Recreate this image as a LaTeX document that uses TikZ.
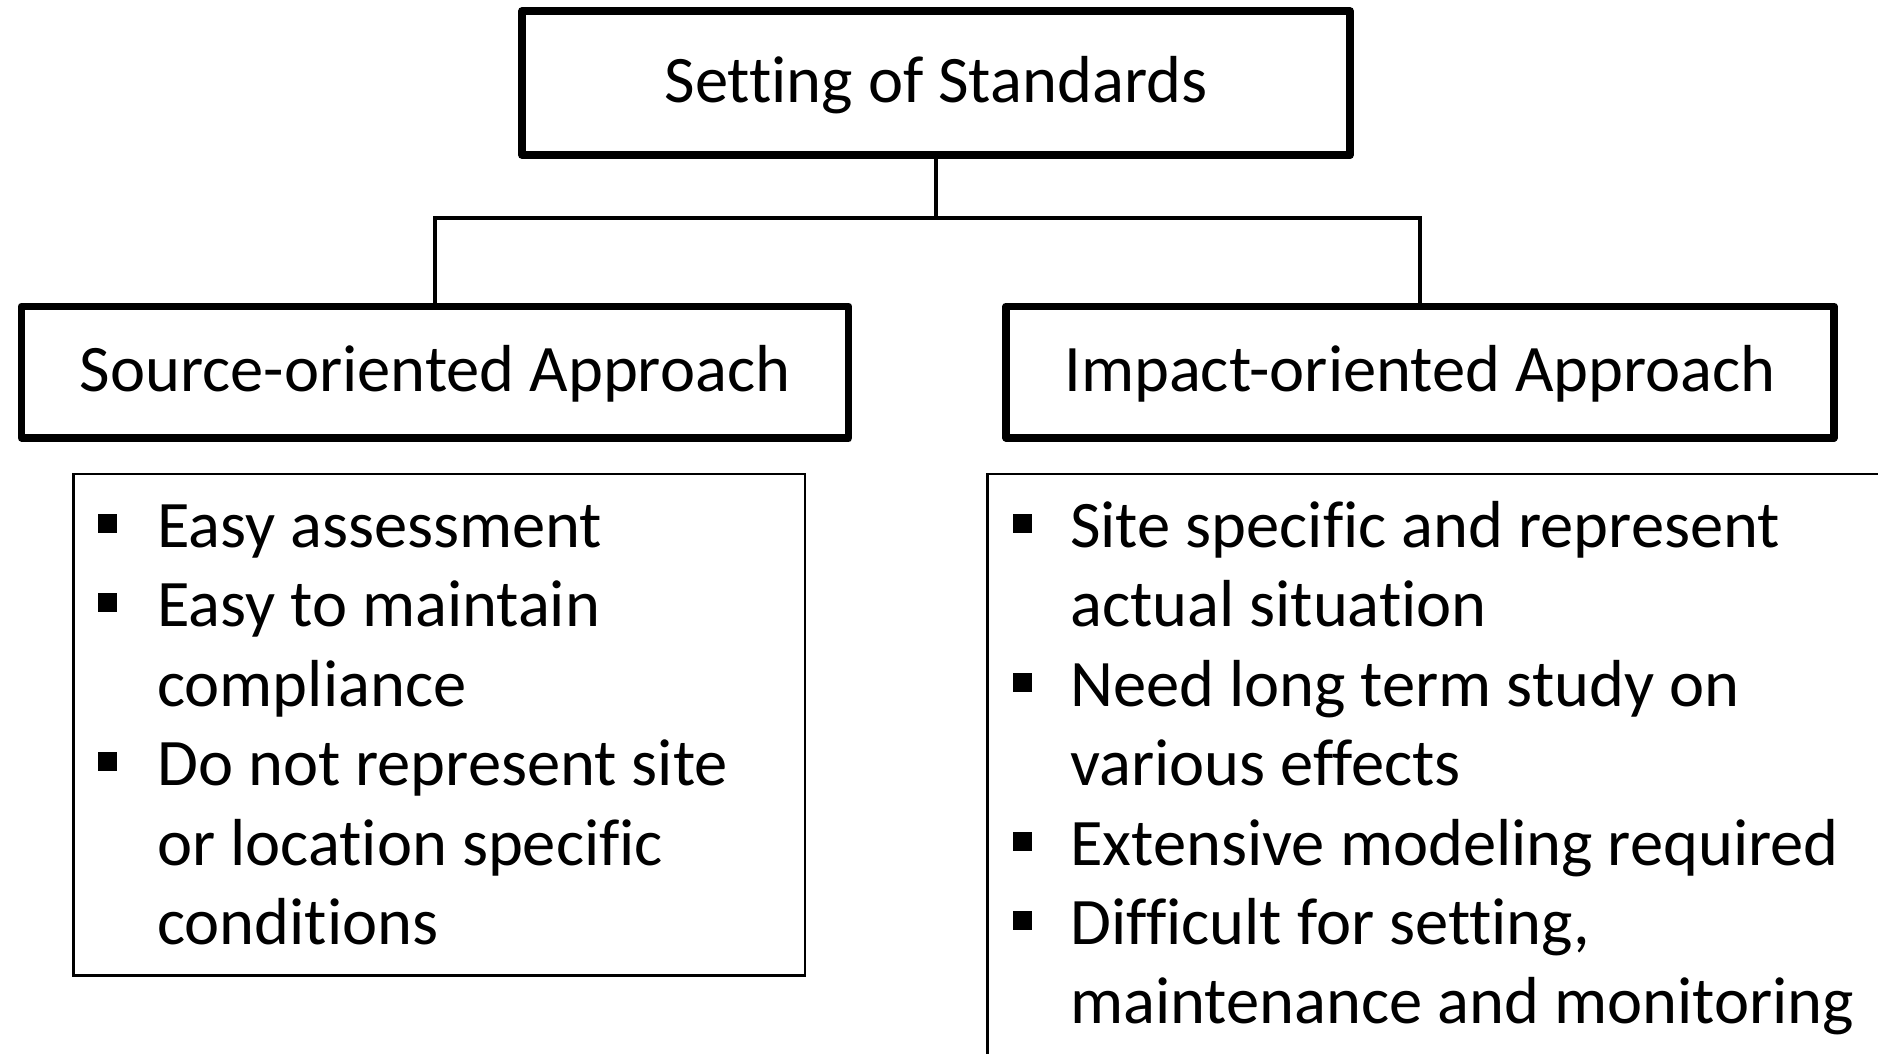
\documentclass[tikz,border=0pt]{standalone}
\usepackage{fontspec}
\setmainfont{Carlito}[Ligatures=NoCommon]
\usetikzlibrary{shadows}
\begin{document}
\begin{tikzpicture}[x=1pt,y=-1pt,
  hdr/.style={draw=black, line width=7.5pt, fill=white, line join=round,
    font=\fontsize{66.5}{80}\selectfont, text height=41pt, text depth=2pt, inner sep=0pt,
    drop shadow={shadow xshift=2pt, shadow yshift=-4pt, opacity=0.25, fill=black}},
  lbox/.style={draw=black, line width=2.5pt, fill=white, inner sep=0pt},
  conn/.style={draw=black, line width=4.5pt},
  itm/.style={anchor=base west, inner sep=0pt, font=\fontsize{66.5}{80}\selectfont},
  bul/.style={fill=black, minimum size=19pt, inner sep=0pt}
]
\useasboundingbox (0,0) rectangle (1878,1053);
\fill[white] (0,0) rectangle (1878,1053);
\clip (0,0) rectangle (1878,1053);

% header boxes
\node[hdr, minimum width=828pt, minimum height=144pt] (top) at (936,83) {Setting of Standards};
\node[hdr, minimum width=827pt, minimum height=131.5pt] (src) at (435,372) {Source-oriented Approach};
\node[hdr, minimum width=828pt, minimum height=131.5pt] (imp) at (1420,372) {Impact-oriented Approach};

% connectors
\coordinate (hub) at (936,218);
\draw[conn] (top.south) -- (hub);
\draw[conn] (hub) -| (src.north);
\draw[conn] (hub) -| (imp.north);

% list boxes
\node[lbox, minimum width=731.5pt, minimum height=501.5pt] (srcl) at (439.25,724.75) {};
\node[lbox, minimum width=1000pt, minimum height=700pt] (impl) at (1487.5,824) {};

% left list
\node[bul] (lb1) at (107,523) {};
\node[itm] (l1) at (157,547) {Easy assessment};
\node[bul] (lb2) at (107,602) {};
\node[itm] (l2) at (157,626) {Easy to maintain};
\node[itm] (l3) at (157,706) {compliance};
\node[bul] (lb3) at (107,761) {};
\node[itm] (l4) at (157,785) {Do not represent site};
\node[itm] (l5) at (157,865) {or location specific};
\node[itm] (l6) at (157,944) {conditions};

% right list
\node[bul] (rb1) at (1022,523) {};
\node[itm] (r1) at (1070,547) {Site specific and represent};
\node[itm] (r2) at (1070,626) {actual situation};
\node[bul] (rb2) at (1022,682) {};
\node[itm] (r3) at (1070,706) {Need long term study on};
\node[itm] (r4) at (1070,785) {various effects};
\node[bul] (rb3) at (1022,841) {};
\node[itm] (r5) at (1070,865) {Extensive modeling required};
\node[bul] (rb4) at (1022,920) {};
\node[itm] (r6) at (1070,944) {Difficult for setting,};
\node[itm] (r7) at (1070,1023) {maintenance and monitoring};
\end{tikzpicture}
\end{document}
